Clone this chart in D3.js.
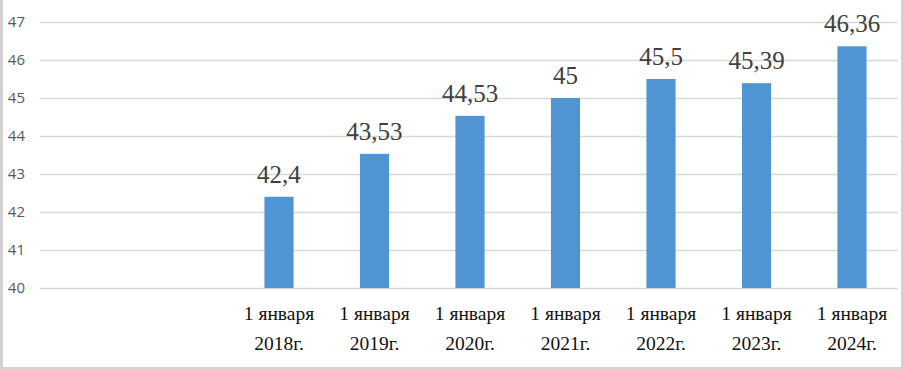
<!DOCTYPE html>
<html>
<head>
<meta charset="utf-8">
<script src="https://cdn.jsdelivr.net/npm/d3@7"></script>
<style>
  html, body { margin: 0; padding: 0; background: #fff; }
  svg { display: block; }
</style>
</head>
<body>
<div id="chart"></div>
<script>
'use strict';

// two empty slots before the first year, as in the source
var categories = ['c0', 'c1', 'y2018', 'y2019', 'y2020', 'y2021', 'y2022', 'y2023', 'y2024'];
var labelLine1 = ['', '', '1 января', '1 января', '1 января', '1 января', '1 января', '1 января', '1 января'];
var labelLine2 = ['', '', '2018г.', '2019г.', '2020г.', '2021г.', '2022г.', '2023г.', '2024г.'];
var values = [null, null, 42.4, 43.53, 44.53, 45, 45.5, 45.39, 46.36];
var valueLabels = ['', '', '42,4', '43,53', '44,53', '45', '45,5', '45,39', '46,36'];
var yTicks = [40, 41, 42, 43, 44, 45, 46, 47];

var SERIF = "'Liberation Serif', 'Times New Roman', serif";

var W = 904, H = 370;
var margin = {top: 22, right: 4, bottom: 82, left: 40};
var width = W - margin.left - margin.right;
var height = H - margin.top - margin.bottom;

var svg = d3.select('#chart').append('svg')
	.attr('width', W)
	.attr('height', H);

// outer frame
svg.append('rect')
	.attr('x', 1.5).attr('y', -3)
	.attr('width', 901).attr('height', 371.5)
	.attr('fill', 'none')
	.attr('stroke', '#d2d2d2')
	.attr('stroke-width', 3);

var g = svg.append('g')
	.attr('transform', 'translate(' + margin.left + ',' + margin.top + ')');

var x = d3.scaleBand()
	.domain(categories)
	.range([0, width])
	.paddingInner(0.695)
	.paddingOuter(0.35);

var y = d3.scaleLinear()
	.domain([40, 47])
	.range([height, 0]);

// gridlines + y labels
var yAxis = d3.axisLeft(y)
	.tickValues(yTicks)
	.tickSize(-(width - 2))
	.tickPadding(15)
	.tickFormat(d3.format('d'));

g.append('g')
	.attr('class', 'axis y')
	.call(yAxis)
	.attr('font-family', "'Open Sans', sans-serif")
	.attr('font-size', 15)
	.call(function(s) {
		s.select('.domain').remove();
		s.selectAll('.tick line').attr('stroke', '#d9d9d9').attr('stroke-width', 1.6);
		s.selectAll('.tick text').attr('fill', '#595959').style('font-size', '15px');
	});

var data = categories.map(function(c, i) {
	return {key: c, value: values[i], label: valueLabels[i], l1: labelLine1[i], l2: labelLine2[i]};
});

var bars = data.filter(function(d) { return d.value !== null; });

g.append('g').attr('class', 'bars')
	.selectAll('rect')
	.data(bars)
	.enter()
	.append('rect')
	.attr('x', function(d) { return x(d.key); })
	.attr('width', x.bandwidth())
	.attr('y', function(d) { return y(d.value); })
	.attr('height', function(d) { return height - y(d.value); })
	.attr('fill', '#4f95d3');

g.append('g').attr('class', 'values')
	.selectAll('text')
	.data(bars)
	.enter()
	.append('text')
	.style('font-family', SERIF)
	.attr('font-size', 25)
	.attr('fill', '#404040')
	.attr('x', function(d) { return x(d.key) + x.bandwidth() / 2; })
	.attr('y', function(d) { return y(d.value) - 14; })
	.attr('text-anchor', 'middle')
	.text(function(d) { return d.label; });

var cat = g.append('g').attr('class', 'categories')
	.selectAll('g')
	.data(data.filter(function(d) { return d.l1 !== ''; }))
	.enter()
	.append('g')
	.attr('transform', function(d) { return 'translate(' + (x(d.key) + x.bandwidth() / 2) + ',' + height + ')'; });

cat.append('text')
	.style('font-family', SERIF)
	.attr('font-size', 19.5)
	.attr('fill', '#111')
	.attr('text-anchor', 'middle')
	.attr('y', 32)
	.text(function(d) { return d.l1; });
cat.append('text')
	.style('font-family', SERIF)
	.attr('font-size', 19.5)
	.attr('fill', '#111')
	.attr('text-anchor', 'middle')
	.attr('y', 62)
	.text(function(d) { return d.l2; });
</script>
</body>
</html>
